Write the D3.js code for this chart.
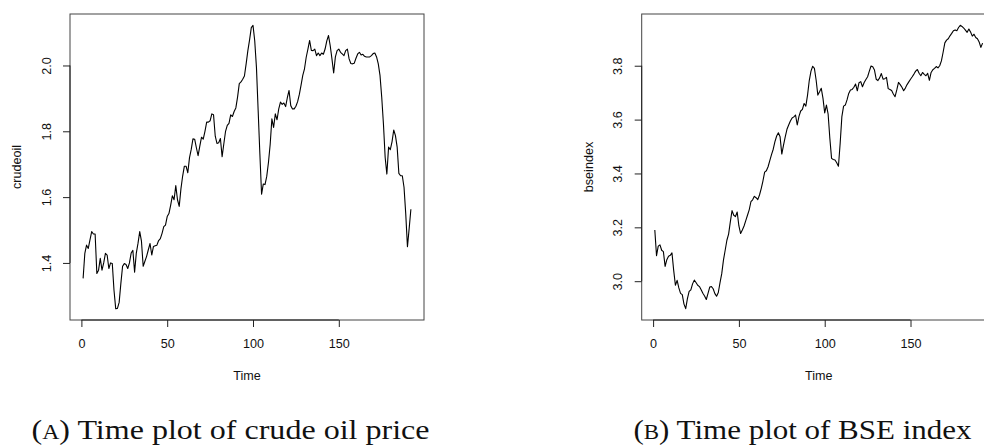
<!DOCTYPE html>
<html>
<head>
<meta charset="utf-8">
<script src="https://cdn.jsdelivr.net/npm/d3@7"></script>
<style>
  body { margin: 0; background: #fff; }
  svg { display: block; }
</style>
</head>
<body>
<svg id="chart" width="984" height="446"></svg>
<script>
// Monthly series (t = 1 .. 192)
const crudeoil = [
  1.353, 1.429, 1.454, 1.444, 1.470, 1.495, 1.488, 1.488, 1.368, 1.378,
  1.414, 1.378, 1.400, 1.429, 1.424, 1.383, 1.400, 1.398, 1.317, 1.261,
  1.262, 1.280, 1.338, 1.390, 1.398, 1.395, 1.383, 1.400, 1.430, 1.438,
  1.372, 1.430, 1.460, 1.495, 1.466, 1.390, 1.405, 1.420, 1.440, 1.459,
  1.424, 1.450, 1.452, 1.454, 1.468, 1.474, 1.490, 1.510, 1.515, 1.541,
  1.550, 1.575, 1.604, 1.592, 1.635, 1.592, 1.572, 1.625, 1.664, 1.694,
  1.694, 1.674, 1.720, 1.745, 1.777, 1.776, 1.750, 1.726, 1.755, 1.782,
  1.776, 1.800, 1.828, 1.828, 1.832, 1.853, 1.850, 1.785, 1.763, 1.765,
  1.778, 1.723, 1.762, 1.800, 1.818, 1.824, 1.850, 1.845, 1.860, 1.871,
  1.904, 1.945, 1.950, 1.958, 1.968, 2.005, 2.045, 2.078, 2.115, 2.122,
  2.075, 1.995, 1.863, 1.731, 1.609, 1.640, 1.638, 1.663, 1.705, 1.760,
  1.838, 1.812, 1.853, 1.835, 1.868, 1.889, 1.882, 1.886, 1.875, 1.902,
  1.924, 1.878, 1.868, 1.868, 1.876, 1.890, 1.912, 1.940, 1.970, 1.990,
  2.025, 2.050, 2.076, 2.046, 2.045, 2.050, 2.030, 2.038, 2.030, 2.038,
  2.034, 2.050, 2.075, 2.091, 2.060, 2.020, 1.977, 2.026, 2.045, 2.050,
  2.040, 2.035, 2.030, 2.045, 2.050, 2.020, 2.006, 2.005, 2.007, 2.022,
  2.035, 2.040, 2.032, 2.034, 2.028, 2.026, 2.026, 2.026, 2.030, 2.036,
  2.038, 2.026, 2.005, 1.970, 1.904, 1.823, 1.721, 1.670, 1.752, 1.744,
  1.768, 1.804, 1.787, 1.752, 1.672, 1.665, 1.665, 1.630, 1.549, 1.449,
  1.505, 1.563
];

const bseindex = [
  3.190, 3.095, 3.130, 3.135, 3.115, 3.110, 3.055, 3.080, 3.093, 3.096,
  3.105, 3.040, 2.985, 3.003, 2.975, 2.955, 2.950, 2.915, 2.898, 2.935,
  2.962, 2.968, 2.990, 3.004, 2.995, 2.985, 2.980, 2.968, 2.955, 2.945,
  2.932, 2.955, 2.978, 2.980, 2.972, 2.954, 2.944, 2.958, 2.995, 3.028,
  3.078, 3.115, 3.152, 3.175, 3.220, 3.262, 3.245, 3.240, 3.257, 3.205,
  3.177, 3.190, 3.205, 3.225, 3.245, 3.265, 3.295, 3.302, 3.315, 3.310,
  3.303, 3.320, 3.344, 3.372, 3.405, 3.410, 3.425, 3.448, 3.470, 3.490,
  3.518, 3.539, 3.551, 3.536, 3.472, 3.505, 3.536, 3.564, 3.580, 3.595,
  3.606, 3.610, 3.617, 3.580, 3.612, 3.632, 3.638, 3.660, 3.650, 3.691,
  3.745, 3.780, 3.798, 3.790, 3.747, 3.691, 3.703, 3.716, 3.679, 3.625,
  3.654, 3.620, 3.530, 3.456, 3.452, 3.450, 3.440, 3.427, 3.511, 3.611,
  3.650, 3.654, 3.673, 3.697, 3.710, 3.712, 3.720, 3.732, 3.707, 3.737,
  3.741, 3.722, 3.738, 3.749, 3.759, 3.780, 3.799, 3.796, 3.784, 3.750,
  3.745, 3.755, 3.771, 3.750, 3.752, 3.757, 3.715, 3.712, 3.708, 3.695,
  3.685, 3.710, 3.738, 3.730, 3.720, 3.707, 3.717, 3.730, 3.740, 3.750,
  3.759, 3.769, 3.780, 3.786, 3.772, 3.763, 3.775, 3.768, 3.763, 3.772,
  3.746, 3.775, 3.785, 3.790, 3.797, 3.792, 3.800, 3.818, 3.850, 3.885,
  3.895, 3.900, 3.911, 3.920, 3.930, 3.933, 3.930, 3.942, 3.950, 3.946,
  3.940, 3.932, 3.924, 3.936, 3.925, 3.910, 3.917, 3.905, 3.900, 3.888,
  3.868, 3.884
];

const timeTicks = [0, 50, 100, 150];
const crudeTicks = [1.4, 1.6, 1.8, 2.0];
const bseTicks = [3.0, 3.2, 3.4, 3.6, 3.8];
const seriesNames = ["crudeoil", "bseindex"];
const captionTags = ["A", "B"];
const captionTexts = ["Time plot of crude oil price", "Time plot of BSE index"];

const svg = d3.select("#chart");
const sans = "'Liberation Sans', Arial, Helvetica, sans-serif";
const serif = "'Liberation Serif', 'Times New Roman', serif";
const tickFont = 12.6;

// base-graphics style range: data range padded by 4% on each side
function padded(lo, hi) {
  const d = (hi - lo) * 0.04;
  return [lo - d, hi + d];
}

function drawPanel(cfg) {
  const { values, yTicks, name, left, right, top, bottom, tag, caption, capX, capW } = cfg;
  const data = values.map((v, i) => ({ t: i + 1, v }));

  const x = d3.scaleLinear().domain(padded(1, values.length)).range([left, right]);
  const y = d3.scaleLinear().domain(padded(d3.min(values), d3.max(values))).range([bottom, top]);

  const g = svg.append("g");

  // plot frame
  g.append("rect")
    .attr("x", left).attr("y", top)
    .attr("width", right - left).attr("height", bottom - top)
    .attr("fill", "none").attr("stroke", "#444").attr("stroke-width", 1);

  // series line
  const line = d3.line().x(d => x(d.t)).y(d => y(d.v));
  g.append("path")
    .datum(data)
    .attr("d", line)
    .attr("fill", "none")
    .attr("stroke", "#000")
    .attr("stroke-width", 1.1)
    .attr("stroke-linejoin", "round");

  // bottom axis
  const xAxis = d3.axisBottom(x).tickValues(timeTicks).tickSize(7).tickPadding(12.5)
    .tickFormat(d3.format("d"));
  const gx = g.append("g").attr("transform", `translate(0,${bottom})`).call(xAxis);
  gx.select(".domain").remove();
  gx.append("line")
    .attr("x1", x(timeTicks[0])).attr("x2", x(timeTicks[timeTicks.length - 1]))
    .attr("stroke", "#222");
  gx.selectAll(".tick line").attr("stroke", "#222");
  gx.selectAll(".tick text")
    .attr("fill", "#111")
    .style("font-family", sans).style("font-size", tickFont + "px");

  // left axis, labels parallel to the axis
  const yAxis = d3.axisLeft(y).tickValues(yTicks).tickSize(7).tickFormat(d3.format(".1f"));
  const gy = g.append("g").attr("transform", `translate(${left},0)`).call(yAxis);
  gy.select(".domain").remove();
  gy.append("line")
    .attr("y1", y(yTicks[0])).attr("y2", y(yTicks[yTicks.length - 1]))
    .attr("stroke", "#222");
  gy.selectAll(".tick line").attr("stroke", "#222");
  gy.selectAll(".tick text")
    .attr("x", null).attr("dy", null)
    .attr("transform", "translate(-23.5,0) rotate(-90)")
    .attr("text-anchor", "middle")
    .attr("dominant-baseline", "central")
    .attr("fill", "#111")
    .style("font-family", sans).style("font-size", tickFont + "px");

  // axis titles
  g.append("text")
    .attr("x", (left + right) / 2).attr("y", 376)
    .attr("text-anchor", "middle").attr("dominant-baseline", "central")
    .attr("fill", "#111")
    .style("font-family", sans).style("font-size", tickFont + "px")
    .text("Time");

  g.append("text")
    .attr("transform", `translate(${left - 53},${(top + bottom) / 2}) rotate(-90)`)
    .attr("text-anchor", "middle").attr("dominant-baseline", "central")
    .attr("fill", "#111")
    .style("font-family", sans).style("font-size", tickFont + "px")
    .text(name);

  // sub-figure caption
  const cap = g.append("text")
    .attr("x", capX).attr("y", 439)
    .attr("fill", "#111")
    .attr("textLength", capW).attr("lengthAdjust", "spacingAndGlyphs")
    .style("font-family", serif).style("font-size", "27px");
  cap.append("tspan").text("(");
  cap.append("tspan").style("font-size", "20px").text(tag);
  cap.append("tspan").text(") " + caption);
}

drawPanel({
  values: crudeoil, yTicks: crudeTicks, name: seriesNames[0],
  left: 70, right: 424, top: 14, bottom: 320,
  tag: captionTags[0], caption: captionTexts[0], capX: 31.5, capW: 398
});

drawPanel({
  values: bseindex, yTicks: bseTicks, name: seriesNames[1],
  left: 641.7, right: 995.7, top: 14, bottom: 320,
  tag: captionTags[1], caption: captionTexts[1], capX: 633.5, capW: 338
});
</script>
</body>
</html>
